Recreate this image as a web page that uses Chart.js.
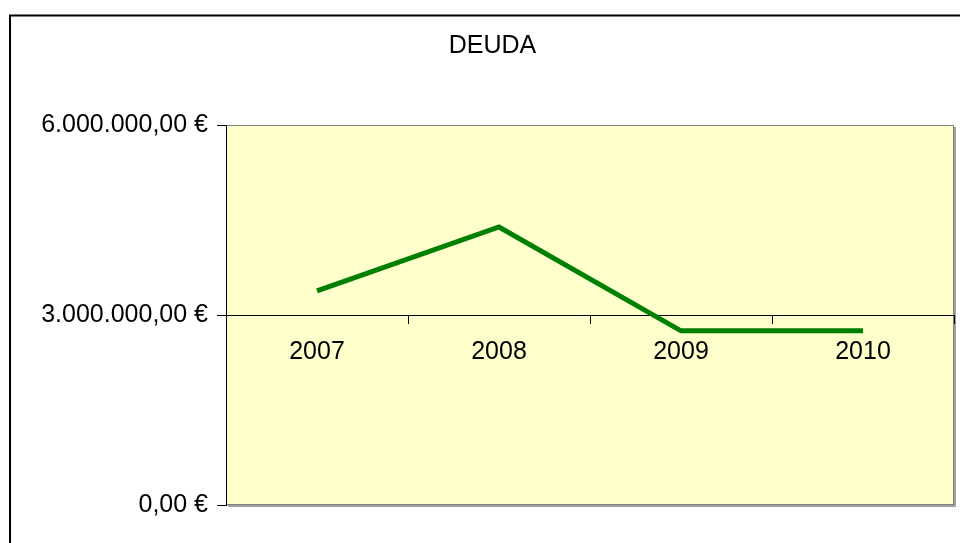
<!DOCTYPE html>
<html>
<head>
<meta charset="utf-8">
<title>DEUDA</title>
<script src="https://cdn.jsdelivr.net/npm/chart.js@4/dist/chart.umd.min.js"></script>
<style>
  html, body { margin: 0; padding: 0; background: #fff; }
  canvas { display: block; }
</style>
</head>
<body>
<canvas id="deudaChart" width="960" height="543"></canvas>
<script>
const years = ['2007', '2008', '2009', '2010'];
const deuda = [3380000, 4390000, 2750000, 2750000];
const yTicks = [0, 3000000, 6000000];

function euro(v) {
  const parts = Math.round(v).toString().replace(/\B(?=(\d{3})+(?!\d))/g, '.');
  return parts + ',00 €';
}

// fondo amarillo del área de trazado + marco exterior
const excelFrame = {
  id: 'excelFrame',
  beforeDraw(chart) {
    const { ctx, chartArea: a } = chart;
    ctx.save();
    ctx.fillStyle = '#fff';
    ctx.fillRect(0, 0, chart.width, chart.height);

    ctx.strokeStyle = '#000';
    ctx.lineWidth = 2;
    ctx.strokeRect(10, 15.5, 1200, 1200);

    ctx.fillStyle = '#a0a0a0';
    ctx.fillRect(a.left + 2, a.top + 2, a.right - a.left, a.bottom - a.top);
    ctx.fillStyle = '#ffffcc';
    ctx.fillRect(a.left, a.top, a.right - a.left, a.bottom - a.top);
    ctx.strokeStyle = '#808080';
    ctx.lineWidth = 1;
    ctx.strokeRect(a.left + 0.5, a.top + 0.5, a.right - a.left - 1, a.bottom - a.top - 1);
    ctx.restore();
  }
};

new Chart(document.getElementById('deudaChart'), {
  type: 'line',
  data: {
    labels: years,
    datasets: [{
      label: 'DEUDA',
      data: deuda,
      borderColor: '#008000',
      borderWidth: 5,
      pointRadius: 0,
      tension: 0,
      fill: false
    }]
  },
  options: {
    responsive: false,
    devicePixelRatio: 1,
    animation: false,
    layout: { padding: { left: 31, right: 6, top: 0, bottom: 38 } },
    plugins: {
      legend: { display: false },
      tooltip: { enabled: false },
      title: {
        display: true,
        text: 'DEUDA',
        color: '#000',
        font: { family: 'Arial, "Liberation Sans", sans-serif', size: 25, weight: 'normal' },
        padding: { top: 31, bottom: 64 }
      }
    },
    scales: {
      x: {
        position: { y: 3000000 },
        offset: true,
        grid: { offset: true, drawOnChartArea: false, drawTicks: true, tickLength: 8, color: '#000' },
        border: { display: true, color: '#000', width: 1 },
        ticks: {
          color: '#000',
          padding: 14,
          maxRotation: 0,
          font: { family: 'Arial, "Liberation Sans", sans-serif', size: 25 }
        }
      },
      y: {
        min: 0,
        max: 6000000,
        afterFit(scale) { scale.width = 195; },
        afterBuildTicks(scale) { scale.ticks = yTicks.map(v => ({ value: v })); },
        grid: { drawOnChartArea: false, drawTicks: true, tickLength: 9, color: '#000' },
        border: { display: true, color: '#000', width: 1 },
        ticks: {
          color: '#000',
          padding: 9,
          callback: v => euro(v),
          font: { family: 'Arial, "Liberation Sans", sans-serif', size: 25 }
        }
      }
    }
  },
  plugins: [excelFrame]
});
</script>
</body>
</html>
